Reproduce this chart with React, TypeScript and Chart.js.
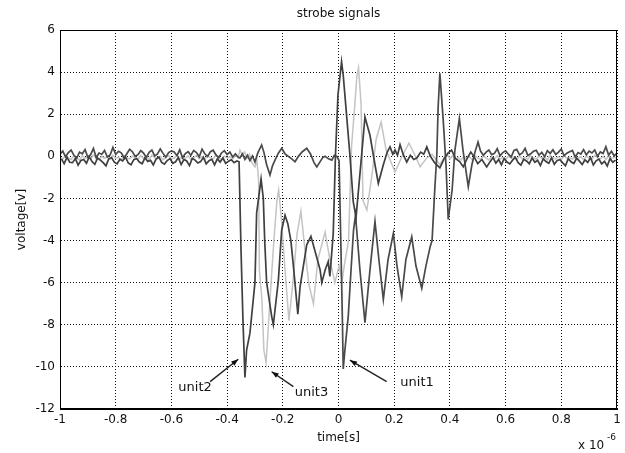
import React, { useEffect, useRef } from "react";
import { Chart, registerables } from "chart.js";

Chart.register(...registerables);

// ---- axis ticks / labels ----
const X_MIN = -1;
const X_MAX = 1;
const X_STEP = 0.2;
const Y_MIN = -12;
const Y_MAX = 6;
const Y_STEP = 2;
const TITLE = "strobe signals";
const X_TITLE = "time[s]";
const Y_TITLE = "voltage[v]";
const X_EXPONENT = ["x 10", "-6"];

// ---- series: [time (x1e-6 s), voltage] ----
const unit1Before: number[][] = [
  [-1.0, 0.1], [-0.99, 0.25], [-0.98, -0.02], [-0.97, 0.18], [-0.96, 0.3], [-0.95, 0.05], [-0.94, -0.08], [-0.93, 0.2],
  [-0.92, 0.12], [-0.91, 0.32], [-0.9, -0.04], [-0.89, 0.08], [-0.88, 0.38], [-0.87, -0.06], [-0.86, 0.16], [-0.85, 0.1],
  [-0.84, 0.28], [-0.83, -0.03], [-0.82, 0.06], [-0.81, 0.42], [-0.8, 0.09], [-0.79, 0.24], [-0.78, 0.17], [-0.77, -0.08],
  [-0.76, 0.12], [-0.75, 0.33], [-0.74, 0.22], [-0.73, 0.0], [-0.72, 0.08], [-0.71, 0.27], [-0.7, 0.15], [-0.69, -0.05],
  [-0.68, 0.19], [-0.67, 0.3], [-0.66, 0.02], [-0.65, 0.11], [-0.64, 0.35], [-0.63, 0.14], [-0.62, -0.04], [-0.61, 0.18],
  [-0.6, 0.26], [-0.59, 0.21], [-0.58, 0.03], [-0.57, 0.31], [-0.56, -0.07], [-0.55, 0.13], [-0.54, 0.22], [-0.53, 0.05],
  [-0.52, 0.28], [-0.51, 0.18], [-0.5, -0.02], [-0.49, 0.34], [-0.48, 0.12], [-0.47, 0.0], [-0.46, 0.22], [-0.45, 0.29],
  [-0.44, 0.07], [-0.43, -0.06], [-0.42, 0.16], [-0.41, 0.27], [-0.4, 0.09], [-0.39, 0.2], [-0.38, -0.03], [-0.37, 0.12],
  [-0.36, -0.05],
];
const unit1Pulse: number[][] = [
  [-0.354, -0.08], [-0.345, 0.12], [-0.336, -0.15], [-0.327, 0.05], [-0.318, -0.2], [-0.309, 0.02], [-0.3, -0.27],
  [-0.29, 0.15], [-0.276, 0.54], [-0.268, 0.2], [-0.258, -0.4], [-0.246, -0.89], [-0.237, -0.45], [-0.228, -0.18],
  [-0.216, 0.15], [-0.204, 0.38], [-0.192, 0.12], [-0.18, 0.0], [-0.168, -0.12], [-0.156, -0.26], [-0.144, 0.0],
  [-0.13, 0.22], [-0.114, 0.38], [-0.1, 0.1], [-0.088, -0.3], [-0.078, -0.5], [-0.066, -0.25], [-0.056, -0.05],
  [-0.048, 0.0], [-0.036, -0.12], [-0.024, -0.18], [-0.015, 0.05], [-0.006, 0.0], [0.002, -0.2], [0.009, -4.5],
  [0.014, -7.8], [0.017, -10.1], [0.023, -9.2], [0.029, -8.4], [0.035, -7.6], [0.045, -5.4], [0.054, -3.5],
  [0.061, -2.8], [0.077, -5.4], [0.095, -7.9], [0.113, -5.4], [0.131, -3.1], [0.145, -4.9], [0.161, -6.8],
  [0.178, -4.9], [0.197, -3.66], [0.21, -5.2], [0.227, -6.67], [0.242, -4.9], [0.263, -3.82], [0.278, -5.2],
  [0.299, -6.27], [0.314, -5.2], [0.329, -4.3], [0.336, -4.0], [0.346, -1.5], [0.353, 0.06], [0.358, 2.4],
  [0.364, 3.94], [0.376, 1.72], [0.386, -0.4], [0.394, -3.0], [0.408, -1.6], [0.418, 0.3], [0.434, 1.8],
  [0.447, 0.3], [0.466, -1.44], [0.479, -0.4], [0.49, 0.2], [0.501, 0.68],
];
const unit1After: number[][] = [
  [0.51, 0.25], [0.52, 0.05], [0.53, 0.2], [0.54, 0.3], [0.55, 0.08], [0.56, 0.14], [0.57, 0.36], [0.58, 0.02],
  [0.59, 0.18], [0.6, 0.26], [0.61, 0.1], [0.62, -0.03], [0.63, 0.28], [0.64, 0.33], [0.65, 0.07], [0.66, 0.16],
  [0.67, 0.38], [0.68, 0.04], [0.69, 0.12], [0.7, 0.24], [0.71, 0.29], [0.72, 0.06], [0.73, 0.19], [0.74, -0.02],
  [0.75, 0.27], [0.76, 0.14], [0.77, 0.31], [0.78, 0.09], [0.79, 0.2], [0.8, 0.35], [0.81, 0.03], [0.82, 0.15],
  [0.83, 0.22], [0.84, 0.28], [0.85, -0.04], [0.86, 0.18], [0.87, 0.11], [0.88, 0.32], [0.89, 0.07], [0.9, 0.25],
  [0.91, 0.16], [0.92, 0.3], [0.93, 0.0], [0.94, 0.21], [0.95, 0.13], [0.96, 0.46], [0.97, 0.06], [0.98, 0.24],
  [0.99, 0.02], [1.0, 0.15],
];

const unit2Before: number[][] = [
  [-0.995, -0.12], [-0.985, -0.35], [-0.975, -0.05], [-0.965, -0.28], [-0.955, -0.3], [-0.945, -0.1], [-0.935, -0.42],
  [-0.925, -0.2], [-0.915, -0.15], [-0.905, -0.33], [-0.895, -0.02], [-0.885, -0.25], [-0.875, -0.38], [-0.865, -0.08],
  [-0.855, -0.18], [-0.845, -0.3], [-0.835, -0.45], [-0.825, -0.12], [-0.815, -0.06], [-0.805, -0.28], [-0.795, -0.36],
  [-0.785, -0.14], [-0.775, -0.22], [-0.765, -0.04], [-0.755, -0.31], [-0.745, -0.4], [-0.735, -0.16], [-0.725, -0.1],
  [-0.715, -0.27], [-0.705, -0.35], [-0.695, -0.07], [-0.685, -0.24], [-0.675, -0.19], [-0.665, -0.41], [-0.655, -0.13],
  [-0.645, -0.03], [-0.635, -0.29], [-0.625, -0.37], [-0.615, -0.2], [-0.605, -0.11], [-0.595, -0.33], [-0.585, -0.26],
  [-0.575, -0.06], [-0.565, -0.39], [-0.555, -0.15], [-0.545, -0.22], [-0.535, -0.44], [-0.525, -0.09], [-0.515, -0.18],
  [-0.505, -0.32], [-0.495, -0.25], [-0.485, -0.05], [-0.475, -0.36], [-0.465, -0.21], [-0.455, -0.14], [-0.445, -0.4],
  [-0.435, -0.12], [-0.425, -0.27], [-0.415, -0.08], [-0.405, -0.34], [-0.395, -0.23], [-0.385, -0.16], [-0.375, -0.3],
  [-0.365, -0.22],
];
const unit2Pulse: number[][] = [
  [-0.357, -0.26], [-0.35, -4.45], [-0.343, -7.8], [-0.336, -10.5], [-0.33, -9.2], [-0.318, -8.4], [-0.3, -6.0],
  [-0.294, -2.7], [-0.278, -1.08], [-0.27, -2.0], [-0.265, -4.0], [-0.258, -6.0], [-0.24, -7.6], [-0.234, -8.0],
  [-0.216, -5.9], [-0.204, -3.5], [-0.192, -2.8], [-0.182, -3.2], [-0.171, -4.0], [-0.162, -5.2], [-0.146, -7.5],
  [-0.138, -6.2], [-0.114, -4.2], [-0.099, -3.8], [-0.078, -4.8], [-0.066, -5.4], [-0.06, -6.0], [-0.048, -5.4],
  [-0.037, -5.0], [-0.031, -5.7], [-0.019, -3.7], [-0.011, 0.0], [-0.002, 2.9], [0.011, 4.5], [0.017, 3.85],
  [0.029, 1.96], [0.041, 0.06], [0.053, -2.16], [0.063, -2.9], [0.083, 0.06], [0.095, 1.87], [0.113, 1.0],
  [0.131, -0.4], [0.143, -1.28], [0.161, -0.4], [0.175, 0.2], [0.185, 0.45], [0.195, 0.1], [0.203, 0.3],
  [0.212, 0.05], [0.221, 0.55], [0.232, 0.1], [0.245, -0.27], [0.258, 0.05], [0.27, -0.15], [0.281, -0.08],
  [0.295, 0.2], [0.306, 0.1], [0.317, 0.45], [0.33, 0.0], [0.345, -0.3], [0.364, -0.55], [0.38, -0.1],
  [0.393, 0.15], [0.406, 0.3], [0.42, -0.1], [0.435, -0.25], [0.448, -0.5], [0.462, -0.1], [0.475, 0.2],
  [0.486, 0.0], [0.5, -0.35], [0.515, -0.15], [0.532, -0.5],
];
const unit2After: number[][] = [
  [0.545, -0.24], [0.555, -0.06], [0.565, -0.32], [0.575, -0.15], [0.585, -0.4], [0.595, -0.1], [0.605, -0.27],
  [0.615, -0.36], [0.625, -0.18], [0.635, -0.05], [0.645, -0.3], [0.655, -0.42], [0.665, -0.14], [0.675, -0.22],
  [0.685, -0.35], [0.695, -0.08], [0.705, -0.28], [0.715, -0.19], [0.725, -0.44], [0.735, -0.12], [0.745, -0.25],
  [0.755, -0.33], [0.765, -0.07], [0.775, -0.38], [0.785, -0.2], [0.795, -0.16], [0.805, -0.31], [0.815, -0.45],
  [0.825, -0.11], [0.835, -0.26], [0.845, -0.34], [0.855, -0.09], [0.865, -0.23], [0.875, -0.39], [0.885, -0.17],
  [0.895, -0.29], [0.905, -0.06], [0.915, -0.41], [0.925, -0.21], [0.935, -0.13], [0.945, -0.36], [0.955, -0.24],
  [0.965, -0.46], [0.975, -0.1], [0.985, -0.28], [0.995, -0.18],
];

const unit3Before: number[][] = [
  [-1.0, -0.02], [-0.99, -0.12], [-0.98, 0.05], [-0.97, -0.08], [-0.96, -0.15], [-0.95, 0.02], [-0.94, -0.06],
  [-0.93, -0.18], [-0.92, 0.04], [-0.91, -0.1], [-0.9, -0.01], [-0.89, -0.14], [-0.88, 0.06], [-0.87, -0.07],
  [-0.86, -0.16], [-0.85, 0.0], [-0.84, -0.09], [-0.83, -0.03], [-0.82, -0.13], [-0.81, 0.05], [-0.8, -0.11],
  [-0.79, -0.04], [-0.78, -0.17], [-0.77, 0.03], [-0.76, -0.08], [-0.75, -0.12], [-0.74, 0.01], [-0.73, -0.06],
  [-0.72, -0.15], [-0.71, 0.04], [-0.7, -0.1], [-0.69, -0.02], [-0.68, -0.14], [-0.67, 0.06], [-0.66, -0.07],
  [-0.65, -0.11], [-0.64, 0.0], [-0.63, -0.16], [-0.62, -0.05], [-0.61, 0.03], [-0.6, -0.12], [-0.59, -0.08],
  [-0.58, 0.05], [-0.57, -0.13], [-0.56, -0.03], [-0.55, -0.09], [-0.54, 0.02], [-0.53, -0.15], [-0.52, -0.06],
  [-0.51, 0.04], [-0.5, -0.11], [-0.49, -0.01], [-0.48, -0.14], [-0.47, 0.03], [-0.46, -0.07], [-0.45, -0.12],
  [-0.44, 0.05], [-0.43, -0.04], [-0.42, -0.16], [-0.41, 0.01], [-0.4, -0.09], [-0.39, -0.03], [-0.38, -0.13],
  [-0.37, 0.04], [-0.36, -0.06],
];
const unit3Pulse: number[][] = [
  [-0.354, 0.3], [-0.345, 0.05], [-0.337, 0.2], [-0.329, -0.1], [-0.32, 0.1], [-0.311, -0.3], [-0.3, -0.5],
  [-0.293, -0.2], [-0.287, -1.1], [-0.284, -5.4], [-0.275, -6.8], [-0.268, -9.2], [-0.26, -9.8], [-0.246, -6.8],
  [-0.232, -4.0], [-0.221, -2.1], [-0.215, -1.6], [-0.206, -2.8], [-0.192, -5.4], [-0.178, -7.8], [-0.163, -5.9],
  [-0.149, -3.7], [-0.135, -2.6], [-0.12, -4.5], [-0.106, -6.1], [-0.09, -7.0], [-0.074, -4.9], [-0.048, -3.6],
  [-0.031, -4.9], [-0.013, -6.0], [0.002, -5.2], [0.013, -5.9], [0.023, -5.0], [0.036, -4.0], [0.047, 0.5],
  [0.056, 2.0], [0.066, 3.8], [0.072, 4.2], [0.081, 2.5], [0.088, -2.1], [0.102, -2.55], [0.12, -0.9],
  [0.135, 0.8], [0.153, 1.63], [0.171, 0.3], [0.203, -0.75], [0.228, 0.0], [0.253, 0.63], [0.273, 0.1],
  [0.293, -0.5], [0.315, -0.1], [0.336, 0.1], [0.364, -0.4], [0.38, -0.05], [0.393, 0.05],
];
const unit3After: number[][] = [
  [0.4, -0.12], [0.41, 0.02], [0.42, -0.15], [0.43, -0.05], [0.44, -0.18], [0.45, 0.0], [0.46, -0.1], [0.47, -0.03],
  [0.48, -0.16], [0.49, 0.04], [0.5, -0.09], [0.51, -0.14], [0.52, 0.01], [0.53, -0.07], [0.54, -0.17], [0.55, -0.02],
  [0.56, -0.11], [0.57, 0.03], [0.58, -0.13], [0.59, -0.06], [0.6, -0.15], [0.61, 0.0], [0.62, -0.09], [0.63, -0.04],
  [0.64, -0.16], [0.65, 0.02], [0.66, -0.12], [0.67, -0.05], [0.68, -0.14], [0.69, 0.03], [0.7, -0.08], [0.71, -0.13],
  [0.72, 0.01], [0.73, -0.1], [0.74, -0.03], [0.75, -0.17], [0.76, 0.04], [0.77, -0.07], [0.78, -0.12], [0.79, -0.01],
  [0.8, -0.15], [0.81, 0.02], [0.82, -0.09], [0.83, -0.05], [0.84, -0.14], [0.85, 0.03], [0.86, -0.11], [0.87, -0.02],
  [0.88, -0.16], [0.89, 0.01], [0.9, -0.08], [0.91, -0.13], [0.92, 0.04], [0.93, -0.06], [0.94, -0.12], [0.95, -0.01],
  [0.96, -0.15], [0.97, 0.02], [0.98, -0.1], [0.99, -0.04], [1.0, -0.09],
];

// ---- annotations (data coordinates) ----
const annotationNames = ["unit2", "unit3", "unit1"];
const annotationText: number[][] = [[-0.515, -11.0], [-0.097, -11.24], [0.282, -10.76]];
const annotationTail: number[][] = [[-0.461, -10.7], [-0.162, -10.94], [0.173, -10.7]];
const annotationHead: number[][] = [[-0.36, -9.64], [-0.24, -10.23], [0.041, -9.68]];

const FONT = '"DejaVu Sans", "Liberation Sans", sans-serif';
const toPoints = (arrs: number[][][]) => arrs.flat().map(([x, y]) => ({ x, y }));

const overlayPlugin = {
  id: "overlay",
  afterDraw(chart: any) {
    const { ctx, chartArea: a, scales } = chart;
    const xs = scales.x;
    const ys = scales.y;
    ctx.save();
    ctx.strokeStyle = "#000";
    ctx.lineWidth = 1;
    ctx.setLineDash([]);
    ctx.strokeRect(Math.round(a.left) + 0.5, Math.round(a.top) + 0.5, Math.round(a.right - a.left) - 1, Math.round(a.bottom - a.top) - 1);

    ctx.fillStyle = "#111";
    ctx.font = `12px ${FONT}`;
    ctx.textAlign = "center";
    ctx.textBaseline = "middle";
    const cx = (a.left + a.right) / 2;
    ctx.fillText(TITLE, cx, a.top - 16);
    ctx.fillText(X_TITLE, cx, a.bottom + 29);
    ctx.save();
    ctx.translate(22, (a.top + a.bottom) / 2);
    ctx.rotate(-Math.PI / 2);
    ctx.fillText(Y_TITLE, 0, 0);
    ctx.restore();

    ctx.textAlign = "left";
    ctx.fillText(X_EXPONENT[0], a.right - 39, a.bottom + 37);
    ctx.font = `9px ${FONT}`;
    ctx.fillText(X_EXPONENT[1], a.right - 10, a.bottom + 29);

    ctx.font = `13px ${FONT}`;
    ctx.textAlign = "center";
    ctx.strokeStyle = "#222";
    ctx.fillStyle = "#111";
    ctx.lineWidth = 1.4;
    annotationNames.forEach((name, i) => {
      const tx = xs.getPixelForValue(annotationText[i][0]);
      const ty = ys.getPixelForValue(annotationText[i][1]);
      ctx.fillText(name, tx, ty);
      const x0 = xs.getPixelForValue(annotationTail[i][0]);
      const y0 = ys.getPixelForValue(annotationTail[i][1]);
      const x1 = xs.getPixelForValue(annotationHead[i][0]);
      const y1 = ys.getPixelForValue(annotationHead[i][1]);
      ctx.beginPath();
      ctx.moveTo(x0, y0);
      ctx.lineTo(x1, y1);
      ctx.stroke();
      const ang = Math.atan2(y1 - y0, x1 - x0);
      const L = 7;
      const W = 2.6;
      ctx.beginPath();
      ctx.moveTo(x1, y1);
      ctx.lineTo(x1 - L * Math.cos(ang) + W * Math.sin(ang), y1 - L * Math.sin(ang) - W * Math.cos(ang));
      ctx.lineTo(x1 - L * Math.cos(ang) - W * Math.sin(ang), y1 - L * Math.sin(ang) + W * Math.cos(ang));
      ctx.closePath();
      ctx.fill();
    });
    ctx.restore();
  },
};

export default function App() {
  const ref = useRef<HTMLCanvasElement | null>(null);
  useEffect(() => {
    if (!ref.current) return;
    const gridStyle = { color: "#111", lineWidth: 1, drawTicks: false };
    const borderStyle = { display: true, color: "#000", width: 1, dash: [1, 2] };
    const chart = new Chart(ref.current, {
      type: "line",
      data: {
        datasets: [
          {
            label: "unit2",
            data: toPoints([unit2Before, unit2Pulse, unit2After]),
            borderColor: "#404040",
            borderWidth: 1.7,
            pointRadius: 0,
            tension: 0,
          },
          {
            label: "unit1",
            data: toPoints([unit1Before, unit1Pulse, unit1After]),
            borderColor: "#4a4a4a",
            borderWidth: 1.7,
            pointRadius: 0,
            tension: 0,
          },
          {
            label: "unit3",
            data: toPoints([unit3Before, unit3Pulse, unit3After]),
            borderColor: "#c4c4c4",
            borderWidth: 1.5,
            pointRadius: 0,
            tension: 0,
          },
        ],
      },
      options: {
        responsive: false,
        animation: false,
        devicePixelRatio: 1,
        layout: { padding: { top: 30, right: 8, bottom: 0, left: 0 } },
        plugins: { legend: { display: false }, tooltip: { enabled: false }, title: { display: false } },
        scales: {
          x: {
            type: "linear",
            min: X_MIN,
            max: X_MAX,
            grid: gridStyle as any,
            border: borderStyle as any,
            ticks: {
              stepSize: X_STEP,
              padding: 4,
              color: "#111",
              font: { family: FONT, size: 12 },
              maxRotation: 0,
              autoSkip: false,
              callback: (v: any) => String(Number(Number(v).toFixed(1))),
            },
            afterFit: (s: any) => {
              s.height = 44;
            },
          },
          y: {
            type: "linear",
            min: Y_MIN,
            max: Y_MAX,
            grid: gridStyle as any,
            border: borderStyle as any,
            ticks: {
              stepSize: Y_STEP,
              padding: 5,
              color: "#111",
              font: { family: FONT, size: 12 },
              autoSkip: false,
              callback: (v: any) => String(Number(v)),
            },
            afterFit: (s: any) => {
              s.width = 60;
            },
          },
        },
      },
      plugins: [overlayPlugin],
    });
    return () => chart.destroy();
  }, []);
  return (
    <div style={{ position: "absolute", left: 0, top: 0, width: 625, height: 453, background: "#fff" }}>
      <canvas ref={ref} width={625} height={453} style={{ width: 625, height: 453, display: "block" }} />
    </div>
  );
}
